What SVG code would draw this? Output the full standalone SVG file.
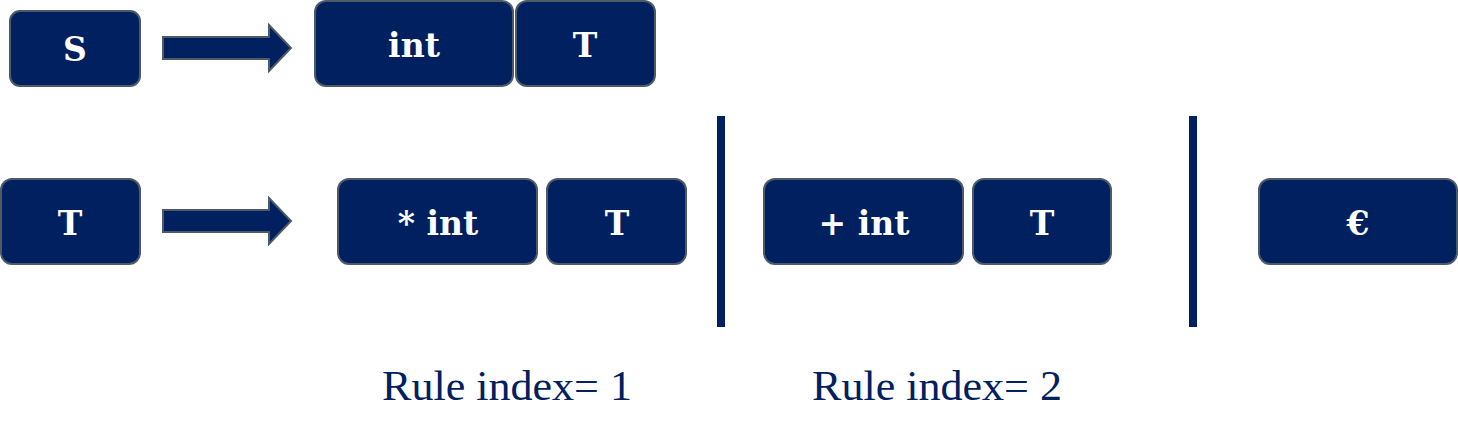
<svg xmlns="http://www.w3.org/2000/svg" width="1458" height="432" viewBox="0 0 1458 432">
<defs>
<style>
.box{fill:#002060;stroke:#4d5b66;stroke-width:2}
.lbl{fill:#ffffff;font-family:"DejaVu Serif","Liberation Serif",serif;font-weight:bold;font-size:33px;text-anchor:middle}
.arr{fill:#002060;stroke:#4d5b66;stroke-width:2}
.bar{fill:#002060}
.cap{fill:#002060;font-family:"Liberation Serif","DejaVu Serif",serif;font-size:42px}
</style>
</defs>
<rect width="1458" height="432" fill="#ffffff"/>
<g id="node-S"><rect class="box" x="10" y="11" width="130" height="75" rx="10"/><text class="lbl" x="75" y="61">S</text></g>
<g id="node-int1"><rect class="box" x="315" y="1" width="198" height="85" rx="11"/><text class="lbl" x="414" y="57">int</text></g>
<g id="node-T1"><rect class="box" x="516" y="1" width="139" height="85" rx="11"/><text class="lbl" x="585" y="57">T</text></g>
<g id="node-T2"><rect class="box" x="1" y="179" width="139" height="85" rx="11"/><text class="lbl" x="70" y="235">T</text></g>
<g id="node-mulint"><rect class="box" x="338" y="179" width="199" height="85" rx="11"/><text class="lbl" x="438" y="235">* int</text></g>
<g id="node-T3"><rect class="box" x="547" y="179" width="139" height="85" rx="11"/><text class="lbl" x="617" y="235">T</text></g>
<g id="node-addint"><rect class="box" x="764" y="179" width="199" height="85" rx="11"/><text class="lbl" x="864" y="235">+ int</text></g>
<g id="node-T4"><rect class="box" x="973" y="179" width="138" height="85" rx="11"/><text class="lbl" x="1042" y="235">T</text></g>
<g id="node-eps"><rect class="box" x="1259" y="179" width="198" height="85" rx="11"/><text class="lbl" x="1358" y="235">€</text></g>
<g id="connectors">
<path class="arr" d="M163,37 L269,37 L269,25 L291,48 L269,71 L269,59 L163,59 Z"/>
<path class="arr" d="M163,210 L269,210 L269,198 L291,221 L269,244 L269,232 L163,232 Z"/>
<rect class="bar" x="717" y="116" width="8" height="211"/>
<rect class="bar" x="1189" y="116" width="8" height="211"/>
</g>
<g id="captions">
<text class="cap" x="382" y="400" textLength="250" lengthAdjust="spacingAndGlyphs">Rule index= 1</text>
<text class="cap" x="812" y="400" textLength="250" lengthAdjust="spacingAndGlyphs">Rule index= 2</text>
</g>
</svg>
